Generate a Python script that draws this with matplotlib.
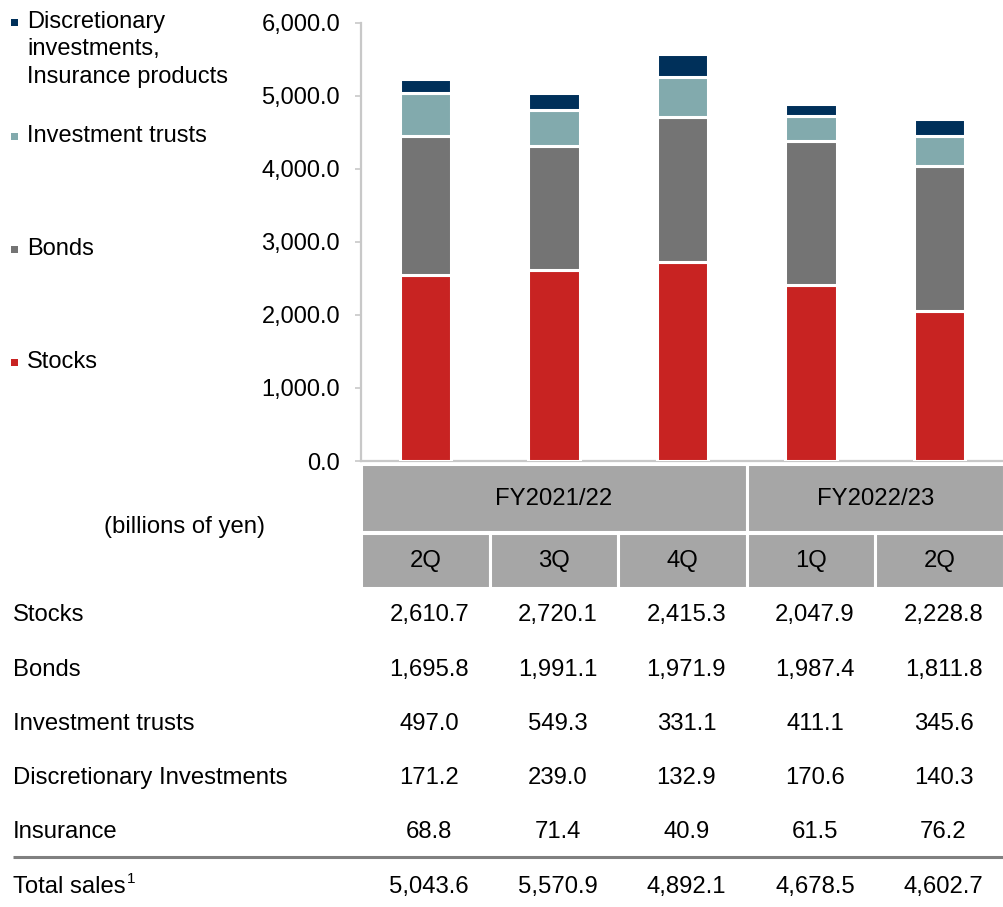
import matplotlib
matplotlib.use("Agg")
import matplotlib.pyplot as plt
import matplotlib.transforms as mtransforms
from matplotlib.patches import Rectangle

plt.rcParams['font.family'] = ['Liberation Sans', 'DejaVu Sans']

# ---------------- data ----------------
series_names = ["Stocks", "Bonds", "Investment trusts",
                "Discretionary\ninvestments,\nInsurance products"]
# stacked bar values (as drawn in the chart)
bar_stocks = [2549.0, 2610.7, 2720.1, 2415.3, 2047.9]
bar_bonds = [1899.0, 1695.8, 1991.1, 1971.9, 1987.4]
bar_trusts = [589.0, 497.0, 549.3, 331.1, 411.1]
bar_disc_ins = [193.0, 240.0, 310.4, 173.8, 232.1]

fiscal_years = ["FY2021/22", "FY2022/23"]
fy_spans = [(0, 2), (3, 4)]
quarters = ["2Q", "3Q", "4Q", "1Q", "2Q"]
yticks = [0, 1000, 2000, 3000, 4000, 5000, 6000]

row_labels = ["Stocks", "Bonds", "Investment trusts",
              "Discretionary Investments", "Insurance"]
tbl_stocks = ["2,610.7", "2,720.1", "2,415.3", "2,047.9", "2,228.8"]
tbl_bonds = ["1,695.8", "1,991.1", "1,971.9", "1,987.4", "1,811.8"]
tbl_trusts = ["497.0", "549.3", "331.1", "411.1", "345.6"]
tbl_disc = ["171.2", "239.0", "132.9", "170.6", "140.3"]
tbl_ins = ["68.8", "71.4", "40.9", "61.5", "76.2"]
tbl_total = ["5,043.6", "5,570.9", "4,892.1", "4,678.5", "4,602.7"]
unit_label = "(billions of yen)"

colors = ["#C82322", "#747474", "#82AAAD", "#00305A"]

FS = 17.2

# ---------------- figure ----------------
W, H = 1004, 907
fig = plt.figure(figsize=(W / 100, H / 100), dpi=100)
ax = fig.add_axes([361 / W, 1 - 461 / H, (W - 361) / W, (461 - 22.7) / H])
ov = fig.add_axes([0, 0, 1, 1], zorder=-1)
ov.set_xlim(0, W)
ov.set_ylim(H, 0)
ov.axis("off")

x = list(range(len(bar_stocks)))
bottom = [0.0] * len(x)
for vals, col in zip([bar_stocks, bar_bonds, bar_trusts, bar_disc_ins], colors):
    ax.bar(x, vals, width=0.40, bottom=bottom, color=col,
           edgecolor="white", linewidth=2.2, zorder=3)
    bottom = [b + v for b, v in zip(bottom, vals)]

ax.set_xlim(-0.5, len(x) - 0.5)
ax.set_ylim(0, 6000)
ax.set_yticks(yticks)
ax.set_yticklabels([f"{v:,.1f}" for v in yticks])
ax.set_xticks([])
for s in ["top", "right"]:
    ax.spines[s].set_visible(False)
for s in ["left", "bottom"]:
    ax.spines[s].set_color("#C8C8C8")
    ax.spines[s].set_linewidth(1.6)
ax.tick_params(axis="y", length=4, width=1.2, color="#C8C8C8",
               labelsize=17, pad=11, labelcolor="black")
ax.patch.set_alpha(0)

# ---------------- legend (left) ----------------
leg_y = [362, 249, 136, 22]
for name, col, yy in zip(series_names, colors, leg_y):
    ov.add_patch(Rectangle((11, yy - 3.5), 7, 7, color=col, lw=0))
    for k, line in enumerate(name.split("\n")):
        ov.text(27, yy + k * 27.5, line, fontsize=17, va="center", ha="left")

# ---------------- header cells ----------------
bt = mtransforms.blended_transform_factory(ax.transData, ov.transData)
hdr_col = "#A6A6A6"
for (a, b), fy in zip(fy_spans, fiscal_years):
    ov.add_patch(Rectangle((a - 0.5, 464), (b - a + 1), 68, transform=bt,
                           facecolor=hdr_col, edgecolor="white", lw=2.2,
                           clip_on=False))
    ov.text((a + b) / 2, 499, fy, transform=bt, ha="center", va="center",
            fontsize=FS)
for i, q in enumerate(quarters):
    ov.add_patch(Rectangle((i - 0.5, 533), 1, 55, transform=bt,
                           facecolor=hdr_col, edgecolor="white", lw=2.2,
                           clip_on=False))
    ov.text(i, 561, q, transform=bt, ha="center", va="center", fontsize=FS)

ov.text(185, 527, unit_label, ha="center", va="center", fontsize=FS)

# ---------------- table ----------------
rows = [tbl_stocks, tbl_bonds, tbl_trusts, tbl_disc, tbl_ins]
row_y = [615, 670, 724, 778, 832]
for lab, vals, yy in zip(row_labels, rows, row_y):
    ov.text(13, yy, lab, ha="left", va="center", fontsize=FS)
    for i, v in enumerate(vals):
        ov.text(i + 0.03, yy, v, transform=bt, ha="center", va="center",
                fontsize=FS)

ov.plot([13, W], [857, 857], color="#808080", lw=2.2, solid_capstyle="butt")
t_total = ov.text(13, 887, "Total sales", ha="left", va="center", fontsize=FS)
ov.annotate("1", xy=(1.0, 0.85), xycoords=t_total, xytext=(1, 0),
            textcoords="offset points", ha="left", va="center", fontsize=11)
for i, v in enumerate(tbl_total):
    ov.text(i + 0.03, 887, v, transform=bt, ha="center", va="center",
            fontsize=FS)

fig.savefig("out.png", dpi=100)
